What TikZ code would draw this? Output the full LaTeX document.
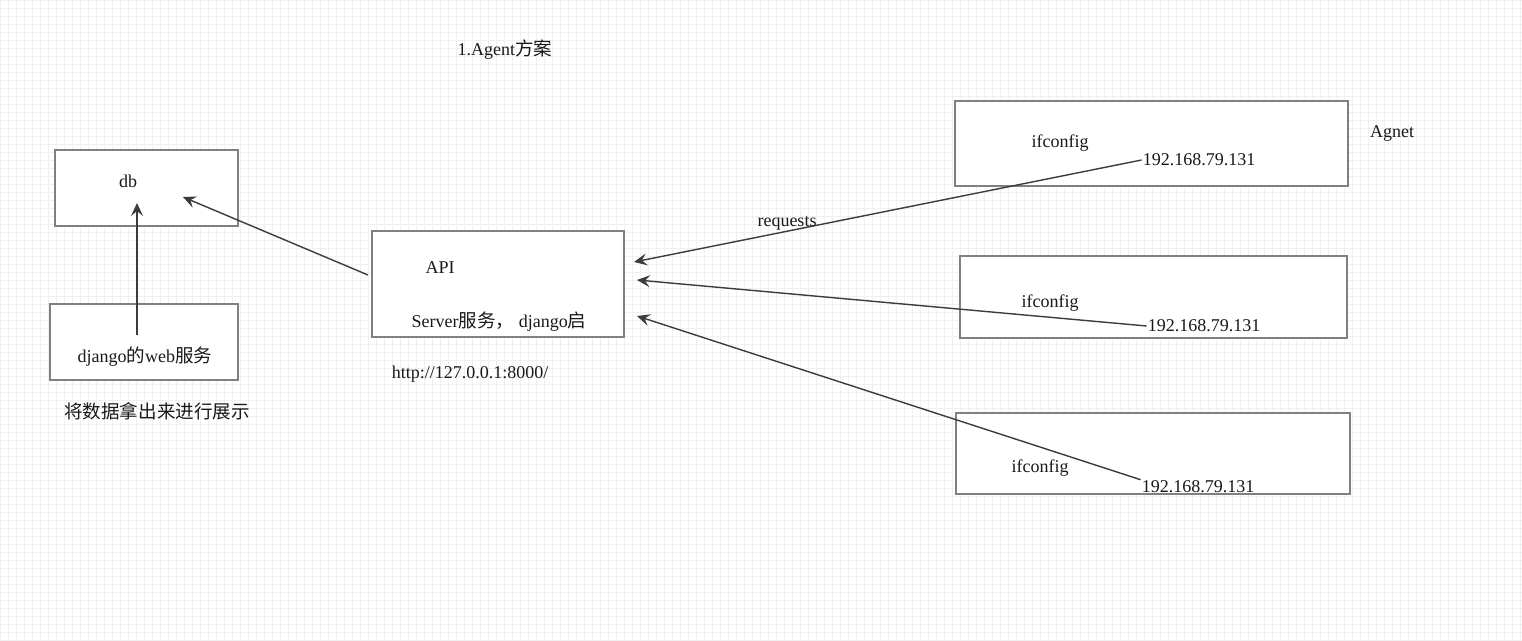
\documentclass[tikz,border=0pt]{standalone}
\usepackage{fontspec}
\setmainfont{Liberation Serif}
\newfontfamily\cjk[Scale=1.03]{Noto Sans CJK SC}
\usepackage{tikz}
\usetikzlibrary{arrows.meta,positioning}

\definecolor{boxgray}{HTML}{808080}
\definecolor{linegray}{HTML}{3C3C3C}
\tikzset{
  box/.style={draw=boxgray,line width=2pt,fill=white,anchor=north west,inner sep=0pt},
  lbl/.style={inner sep=1pt,text=black!90},
  conn/.style={draw=linegray,line width=1.4pt,-{Stealth[length=13pt,width=12pt,inset=5pt]}},
}

\begin{document}
\begin{tikzpicture}[x=1pt,y=-1pt,font=\fontsize{18}{21}\selectfont]
  \useasboundingbox (0,0) rectangle (1522,640);
  \fill[white] (0,0) rectangle (1522,640);
  \draw[black!6,line width=0.6pt,step=8pt] (0,0) grid (1522,640);

  % title
  \node[lbl] (title) at (505,50) {1.Agent{\cjk 方案}};

  % db and web side
  \node[box,minimum width=183pt,minimum height=76pt] (db) at (54,149) {};
  \node[lbl] (dbtxt) at (128,181) {db};
  \node[box,minimum width=188pt,minimum height=76pt] (web) at (49,303) {};
  \node[lbl] (webtxt) at (145,357) {django{\cjk 的}web{\cjk 服务}};
  \node[lbl] (show) at (157,411) {\cjk 将数据拿出来进行展示};

  % server
  \node[box,minimum width=252pt,minimum height=106pt] (api) at (371,230) {};
  \node[lbl] (apitxt) at (440,268) {API};
  \node[lbl] (srvtxt) at (499,322) {Server{\cjk 服务，} django{\cjk 启}};
  \node[lbl] (url) at (470,374) {http://127.0.0.1:8000/};

  % agents
  \node[box,minimum width=393pt,minimum height=85pt] (ag1) at (954,100) {};
  \node[box,minimum width=387pt,minimum height=82pt] (ag2) at (959,255) {};
  \node[box,minimum width=394pt,minimum height=81pt] (ag3) at (955,412) {};
  \node[lbl] (agnet) at (1392,133) {Agnet};
  \node[lbl] (ifc1) at (1060,143) {ifconfig};
  \node[lbl] (ifc2) at (1050,303) {ifconfig};
  \node[lbl] (ifc3) at (1040,468) {ifconfig};
  \node[lbl] (ip1) at (1199,160) {192.168.79.131};
  \node[lbl] (ip2) at (1204,326) {192.168.79.131};
  \node[lbl] (ip3) at (1198,487) {192.168.79.131};

  % connectors
  \coordinate (webup) at (137,335);
  \coordinate (dbin) at (137,203);
  \coordinate (apiout) at (368,275);
  \coordinate (dbside) at (183,197);
  \coordinate (in1) at (634,262);
  \coordinate (in2) at (637,280);
  \coordinate (in3) at (637,316);
  \draw[conn] (webup) -- (dbin);
  \draw[conn] (apiout) -- (dbside);
  \draw[conn] (ip1.west) -- (in1);
  \draw[conn] (ip2.west) -- (in2);
  \draw[conn] (ip3.north west) -- (in3);
  \node[lbl] (req) at (787,223) {requests};
\end{tikzpicture}
\end{document}
